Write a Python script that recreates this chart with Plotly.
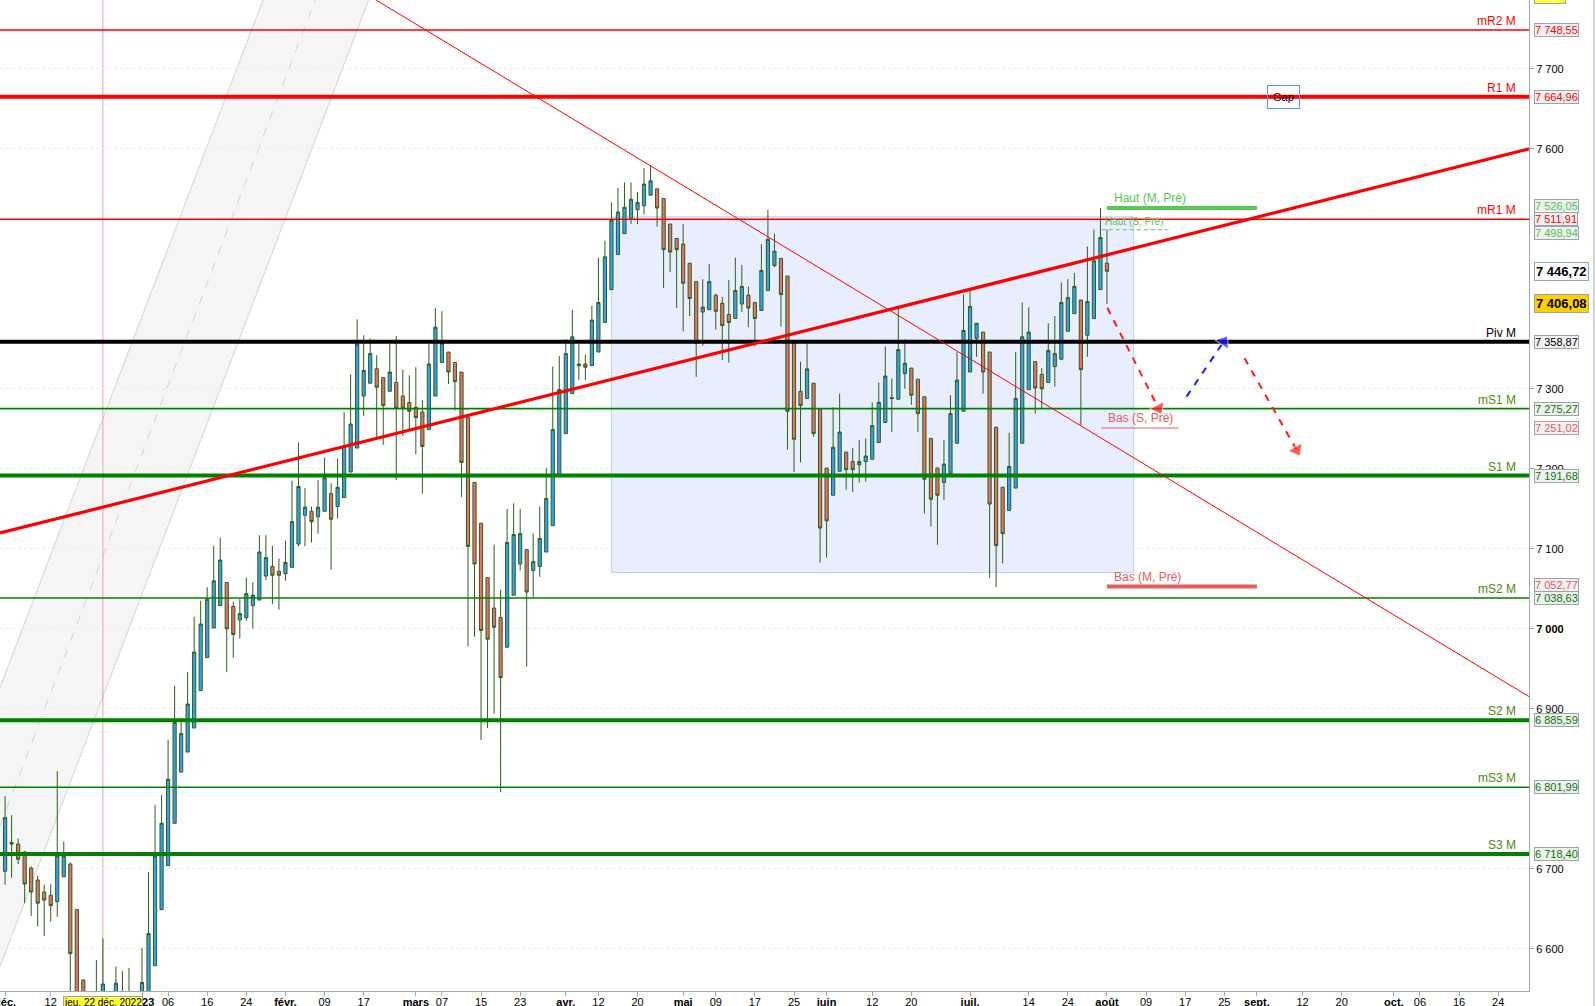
import pandas as pd
import plotly.graph_objects as go

# séances du CAC 40, 1er déc. 2022 -> 1er août 2023 (index = n° de séance)
holidays = ['2022-12-26', '2023-04-07', '2023-04-10', '2023-05-01']
days = pd.bdate_range('2022-12-01', '2023-08-01')
days = days[~days.isin(pd.to_datetime(holidays))]
future = pd.bdate_range('2023-08-02', '2023-11-30')
all_days = days.append(future)

opens = [6697, 6731, 6731, 6721, 6701, 6686, 6671, 6667, 6659, 6690,
         6706, 6649, 6561, 6510, 6500, 6530, 6520, 6530, 6530, 6500,
         6520, 6520, 6540, 6579, 6649, 6704, 6757, 6821, 6846, 6876,
         6923, 6964, 7001, 7029, 7058, 7028, 7011, 7014, 7029, 7036,
         7066, 7078, 7072, 7069, 7077, 7106, 7142, 7147, 7140, 7147,
         7169, 7153, 7164, 7196, 7226, 7291, 7307, 7325, 7314, 7297,
         7308, 7291, 7283, 7277, 7271, 7249, 7291, 7333, 7346, 7333,
         7321, 7264, 7183, 7132, 7064, 7026, 7014, 6977, 7042, 7081,
         7099, 7073, 7078, 7096, 7129, 7193, 7244, 7294, 7329, 7331,
         7329, 7346, 7383, 7424, 7468, 7494, 7513, 7524, 7529, 7542,
         7550, 7538, 7506, 7488, 7481, 7457, 7434, 7396, 7399, 7417,
         7407, 7393, 7388, 7406, 7417, 7408, 7398, 7423, 7454, 7463,
         7441, 7357, 7297, 7288, 7307, 7274, 7201, 7167, 7197, 7221,
         7209, 7205, 7209, 7212, 7233, 7258, 7288, 7287, 7319, 7326,
         7312, 7290, 7238, 7201, 7183, 7194, 7232, 7272, 7321, 7363,
         7371, 7346, 7252, 7177, 7148, 7176, 7232, 7299, 7334, 7318,
         7308, 7328, 7337, 7372, 7394, 7411, 7367, 7388, 7424, 7457]
highs = [6791, 6767, 6738, 6722, 6703, 6691, 6680, 6681, 6822, 6734,
         6708, 6650, 6562, 6530, 6586, 6613, 6540, 6578, 6572, 6576,
         6540, 6601, 6696, 6780, 6792, 6861, 6929, 6883, 6946, 7015,
         7035, 7052, 7104, 7114, 7058, 7034, 7037, 7064, 7058, 7117,
         7117, 7104, 7088, 7110, 7185, 7233, 7176, 7153, 7186, 7214,
         7182, 7213, 7271, 7318, 7387, 7367, 7363, 7342, 7314, 7356,
         7366, 7324, 7317, 7327, 7286, 7356, 7401, 7397, 7346, 7333,
         7321, 7264, 7183, 7132, 7064, 7105, 7049, 7150, 7157, 7150,
         7099, 7119, 7153, 7201, 7328, 7341, 7362, 7399, 7356, 7343,
         7404, 7464, 7485, 7533, 7551, 7558, 7558, 7546, 7576, 7580,
         7550, 7538, 7506, 7488, 7506, 7457, 7434, 7437, 7456, 7419,
         7415, 7436, 7464, 7455, 7428, 7408, 7481, 7524, 7494, 7463,
         7441, 7357, 7334, 7357, 7307, 7274, 7201, 7277, 7294, 7221,
         7226, 7236, 7238, 7283, 7308, 7353, 7313, 7401, 7362, 7326,
         7312, 7290, 7238, 7201, 7236, 7292, 7346, 7418, 7424, 7382,
         7371, 7346, 7252, 7177, 7245, 7346, 7408, 7402, 7334, 7326,
         7382, 7391, 7433, 7437, 7445, 7411, 7478, 7499, 7526, 7499]
lows = [6680, 6689, 6706, 6657, 6641, 6628, 6616, 6634, 6640, 6690,
        6546, 6500, 6500, 6460, 6470, 6500, 6480, 6510, 6500, 6490,
        6480, 6500, 6530, 6579, 6649, 6704, 6757, 6821, 6846, 6876,
        6923, 6964, 7001, 7029, 6946, 6964, 6988, 7010, 7000, 7036,
        7061, 7031, 7024, 7060, 7077, 7103, 7103, 7108, 7119, 7147,
        7074, 7138, 7164, 7196, 7226, 7266, 7307, 7240, 7230, 7297,
        7186, 7241, 7249, 7218, 7169, 7249, 7291, 7333, 7306, 7273,
        7165, 6978, 6990, 6861, 6876, 6894, 6796, 6977, 7042, 7073,
        6953, 7040, 7065, 7096, 7129, 7193, 7244, 7294, 7311, 7311,
        7329, 7346, 7383, 7424, 7468, 7494, 7506, 7506, 7518, 7542,
        7503, 7426, 7446, 7401, 7372, 7391, 7315, 7354, 7399, 7374,
        7336, 7333, 7388, 7396, 7377, 7353, 7398, 7423, 7452, 7378,
        7224, 7196, 7208, 7288, 7240, 7083, 7089, 7167, 7197, 7174,
        7171, 7183, 7184, 7212, 7233, 7258, 7246, 7287, 7300, 7280,
        7246, 7144, 7128, 7105, 7161, 7194, 7232, 7272, 7321, 7340,
        7294, 7064, 7052, 7082, 7148, 7176, 7232, 7299, 7269, 7276,
        7308, 7303, 7337, 7372, 7394, 7255, 7340, 7388, 7424, 7406]
closes = [6764, 6733, 6712, 6681, 6671, 6657, 6661, 6654, 6716, 6716,
          6594, 6520, 6530, 6480, 6520, 6556, 6500, 6557, 6520, 6530,
          6510, 6558, 6619, 6716, 6757, 6812, 6883, 6869, 6906, 6971,
          7006, 7037, 7060, 7086, 7000, 6993, 7019, 7044, 7042, 7096,
          7089, 7067, 7067, 7083, 7134, 7178, 7152, 7134, 7152, 7189,
          7137, 7177, 7228, 7256, 7356, 7323, 7344, 7302, 7279, 7321,
          7276, 7276, 7272, 7264, 7228, 7331, 7377, 7357, 7321, 7309,
          7208, 7103, 7081, 6998, 6987, 7002, 6939, 7108, 7118, 7119,
          7046, 7084, 7113, 7163, 7249, 7299, 7344, 7365, 7331, 7327,
          7386, 7408, 7465, 7511, 7521, 7527, 7537, 7533, 7556, 7560,
          7526, 7474, 7471, 7474, 7432, 7413, 7357, 7402, 7434, 7397,
          7379, 7383, 7423, 7428, 7401, 7388, 7448, 7487, 7472, 7418,
          7272, 7237, 7279, 7325, 7244, 7126, 7135, 7227, 7246, 7199,
          7199, 7209, 7216, 7254, 7283, 7316, 7289, 7349, 7332, 7292,
          7269, 7187, 7162, 7167, 7206, 7269, 7311, 7373, 7403, 7382,
          7321, 7156, 7104, 7119, 7203, 7288, 7365, 7371, 7301, 7300,
          7348, 7344, 7408, 7414, 7428, 7324, 7409, 7460, 7489, 7447]

# points pivots mensuels
pivot_names = ['mR2 M', 'R1 M', 'mR1 M', 'Piv M', 'mS1 M', 'S1 M', 'mS2 M', 'S2 M', 'mS3 M', 'S3 M']
pivot_values = [7748.55, 7664.96, 7511.91, 7358.87, 7275.27, 7191.68, 7038.63, 6885.59, 6801.99, 6718.40]

# étiquettes de l'axe des prix
price_tags = [7748.55, 7664.96, 7526.05, 7511.91, 7498.94, 7358.87, 7275.27, 7251.02,
              7191.68, 7052.77, 7038.63, 6885.59, 6801.99, 6718.40]
last_price = 7446.72
cursor_price = 7406.08

haut_m, bas_m = 7526.05, 7052.77
haut_s, bas_s = 7498.94, 7251.02

# tracés (index de séance, cours)
trend_up_x, trend_up_y = [-0.78, 233.73], [7119.8, 7600.0]
trend_down_x, trend_down_y = [56.9, 233.73], [7786.0, 6915.3]
chan_low_x, chan_low_y = [-0.78, 39.56], [6926.8, 7786.0]
chan_mid_x, chan_mid_y = [-0.78, 47.56], [6753.8, 7786.0]
chan_high_x, chan_high_y = [-0.78, 55.75], [6577.7, 7786.0]
zone_x, zone_y = [93.0, 173.1], [7070.5, 7515.0]
arrows = [([169.05, 176.9], [7401.4, 7275.7], '#ff1a1a'),
          ([181.2, 186.9], [7290.2, 7358.9], '#1a1aff'),
          ([190.1, 198.1], [7338.2, 7223.5], '#ff1a1a')]
gap_x, gap_y = 196.1, 7664.96
cursor_day = '2022-12-22'

tick_dates = ['2022-12-01', '2022-12-12', '2023-01-02', '2023-01-06', '2023-01-16', '2023-01-24',
              '2023-02-01', '2023-02-09', '2023-02-17', '2023-03-01', '2023-03-07', '2023-03-15',
              '2023-03-23', '2023-04-03', '2023-04-12', '2023-04-20', '2023-05-02', '2023-05-09',
              '2023-05-17', '2023-05-25', '2023-06-01', '2023-06-12', '2023-06-20', '2023-07-03',
              '2023-07-14', '2023-07-24', '2023-08-01', '2023-08-09', '2023-08-17', '2023-08-25',
              '2023-09-01', '2023-09-12', '2023-09-20', '2023-10-02', '2023-10-06', '2023-10-16',
              '2023-10-24']
tick_texts = ['<b>déc.</b>', '12', '<b>2023</b>', '06', '16', '24', '<b>févr.</b>', '09', '17',
              '<b>mars</b>', '07', '15', '23', '<b>avr.</b>', '12', '20', '<b>mai</b>', '09', '17',
              '25', '<b>juin</b>', '12', '20', '<b>juil.</b>', '14', '24', '<b>août</b>', '09', '17',
              '25', '<b>sept.</b>', '12', '20', '<b>oct.</b>', '06', '16', '24']
y_ticks = [6600, 6700, 6900, 7000, 7100, 7200, 7300, 7600, 7700]

X_RANGE = [-0.78, 233.73]
Y_RANGE = [6547.3, 7786.05]
FONT = 'Liberation Sans, Arial, sans-serif'


def fr(v):
    return f'{v:,.2f}'.replace(',', ' ').replace('.', ',')


def seg(xs, ys):
    return f'M {xs[0]},{ys[0]} L {xs[1]},{ys[1]}'


idx = list(range(len(days)))
tick_idx = [all_days.get_loc(pd.Timestamp(d)) for d in tick_dates]
cursor_idx = all_days.get_loc(pd.Timestamp(cursor_day))

fig = go.Figure()

# canal gris (sous les bougies)
fig.add_shape(type='path', layer='below', line=dict(width=0), fillcolor='#f5f5f5',
              path=seg(chan_low_x, chan_low_y) + f' L {chan_high_x[1]},{chan_high_y[1]}'
              f' L {chan_high_x[0]},{chan_high_y[0]} Z')
for cx, cy, dash in [(chan_low_x, chan_low_y, 'solid'), (chan_high_x, chan_high_y, 'solid'),
                     (chan_mid_x, chan_mid_y, 'dash')]:
    fig.add_shape(type='path', layer='below', path=seg(cx, cy),
                  line=dict(color='#d2d2d2', width=1, dash=dash))

# zone bleue
fig.add_shape(type='rect', x0=zone_x[0], x1=zone_x[1], y0=zone_y[0], y1=zone_y[1],
              fillcolor='rgba(205,218,250,0.45)', line=dict(color='#c3cfea', width=1), layer='below')

# curseur
fig.add_shape(type='line', layer='below', x0=cursor_idx, x1=cursor_idx, y0=Y_RANGE[0], y1=Y_RANGE[1],
              line=dict(color='#f2a0a0', width=1))

fig.add_trace(go.Candlestick(
    x=idx, open=opens, high=highs, low=lows, close=closes,
    increasing=dict(fillcolor='#36a0ec', line=dict(color='#2e5e1c', width=1)),
    decreasing=dict(fillcolor='#e2736b', line=dict(color='#2e5e1c', width=1)),
    whiskerwidth=0))

# pivots
for name, val in zip(pivot_names, pivot_values):
    major = not name.startswith('m')
    if name.startswith('Piv'):
        col, lab = 'black', 'black'
    elif 'R' in name:
        col, lab = '#ff0000', '#ff0000'
    else:
        col, lab = '#008000', '#4f8a0a'
    fig.add_trace(go.Scatter(x=X_RANGE, y=[val, val], mode='lines',
                             line=dict(color=col, width=4 if major else 1.6)))
    fig.add_annotation(x=1, xref='paper', y=val, yref='y', text=name, showarrow=False,
                       xanchor='right', yanchor='bottom', xshift=-11, yshift=0,
                       font=dict(family=FONT, size=12, color=lab))

# tendances
fig.add_trace(go.Scatter(x=trend_up_x, y=trend_up_y, mode='lines',
                         line=dict(color='#ff0000', width=3.2)))
fig.add_trace(go.Scatter(x=trend_down_x, y=trend_down_y, mode='lines',
                         line=dict(color='#ff0000', width=1)))

# plus haut / plus bas précédents
fig.add_trace(go.Scatter(x=[169, 192], y=[haut_m, haut_m], mode='lines',
                         line=dict(color='#55c855', width=4)))
fig.add_trace(go.Scatter(x=[169, 192], y=[bas_m, bas_m], mode='lines',
                         line=dict(color='#e06060', width=4)))
fig.add_trace(go.Scatter(x=[168.2, 178.3], y=[haut_s, haut_s], mode='lines',
                         line=dict(color='#55c855', width=1, dash='4px,3px')))
fig.add_trace(go.Scatter(x=[168.1, 180], y=[bas_s, bas_s], mode='lines',
                         line=dict(color='#e06060', width=1)))
for tx, ty, txt, col, sz in [(169.8, haut_m, 'Haut (M, Pré)', '#55c855', 12),
                             (168.4, haut_s, 'Haut (S, Pré)', '#55c855', 10),
                             (168.9, bas_s, 'Bas (S, Pré)', '#e06060', 12),
                             (169.8, bas_m, 'Bas (M, Pré)', '#e06060', 12)]:
    fig.add_annotation(x=tx, y=ty, text=txt, showarrow=False, xanchor='left', yanchor='bottom',
                       yshift=1, font=dict(family=FONT, size=sz, color=col))

# scénarios
for ax_, ay_, col in arrows:
    fig.add_trace(go.Scatter(x=ax_, y=ay_, mode='lines+markers',
                             line=dict(color=col, width=2, dash='7px,7px'),
                             marker=dict(symbol='triangle-up', size=[0, 14], color=col,
                                         angleref='previous')))

fig.add_annotation(x=gap_x, y=gap_y, text='Gap', showarrow=False, bordercolor='#5b8ff9',
                   borderwidth=1, borderpad=5, font=dict(family=FONT, size=11, color='black'))

# étiquettes de prix à droite
tag_col = {7526.05: '#4cc44c', 7498.94: '#4cc44c', 7251.02: '#e05a5a', 7052.77: '#e05a5a',
           7358.87: 'black'}
tag_shift = {7498.94: -3, 7052.77: 2, 7526.05: 2}
for v in price_tags:
    if v in tag_col:
        c = tag_col[v]
    elif v > 7400:
        c = '#ff0000'
    else:
        c = '#007a00'
    fig.add_annotation(x=1, xref='paper', y=v, yref='y', text=fr(v), showarrow=False,
                       xanchor='left', xshift=5, yshift=tag_shift.get(v, 0),
                       bgcolor='#f1f1f1', bordercolor='#9aa4ab', borderwidth=1, borderpad=0,
                       font=dict(family=FONT, size=11, color=c))
fig.add_annotation(x=1, xref='paper', y=last_price, yref='y', text='<b>' + fr(last_price) + '</b>',
                   showarrow=False, xanchor='left', xshift=5, bgcolor='white',
                   bordercolor='#9aa4ab', borderwidth=1, borderpad=1,
                   font=dict(family=FONT, size=13, color='black'))
fig.add_annotation(x=1, xref='paper', y=cursor_price, yref='y', text='<b>' + fr(cursor_price) + '</b>',
                   showarrow=False, xanchor='left', xshift=5, bgcolor='#ffd000',
                   bordercolor='#9aa4ab', borderwidth=1, borderpad=1,
                   font=dict(family=FONT, size=13, color='black'))
fig.add_annotation(x=1, xref='paper', y=1, yref='paper', text='7 793', showarrow=False,
                   xanchor='left', yanchor='middle', xshift=5, yshift=4, bgcolor='#ffff40',
                   bordercolor='#9aa4ab', borderwidth=1, font=dict(family=FONT, size=11, color='black'))
fig.add_annotation(x=cursor_idx, y=0, yref='paper', text='jeu. 22 déc. 2022', showarrow=False,
                   yanchor='top', yshift=-5, bgcolor='#ffff33', bordercolor='#9aa4ab', borderwidth=1,
                   borderpad=0, font=dict(family=FONT, size=10, color='black'))

fig.add_shape(type='line', xref='paper', yref='paper', x0=1.0425, x1=1.0425, y0=-0.02, y1=1.01,
              line=dict(color='#a0a8b0', width=1))

y_text = ['<b>7 000</b>' if t == 7000 else fr(t)[:-3] for t in y_ticks]

fig.update_layout(
    width=1595, height=1006,
    margin=dict(l=0, r=66, t=0, b=15),
    paper_bgcolor='white', plot_bgcolor='white',
    showlegend=False, hovermode=False,
    font=dict(family=FONT, size=11, color='black'),
    xaxis=dict(range=X_RANGE, rangeslider=dict(visible=False), tickvals=tick_idx, ticktext=tick_texts,
               ticks='outside', ticklen=4, tickcolor='#a0a8b0', showgrid=False, zeroline=False,
               showline=True, linecolor='#a0a8b0', tickfont=dict(size=11), tickangle=0,
               ticklabeloverflow='allow', automargin=False, ticklabelstandoff=-3),
    yaxis=dict(range=Y_RANGE, side='right', tickvals=y_ticks, ticktext=y_text, ticks='outside',
               ticklen=4, tickcolor='#a0a8b0', showgrid=True, gridcolor='#ececec', griddash='dot',
               zeroline=False, showline=True, linecolor='#a0a8b0', tickfont=dict(size=11),
               automargin=False),
)

fig.write_html('out.html', config={'displayModeBar': False},
               post_script="document.body.style.margin='0';")
